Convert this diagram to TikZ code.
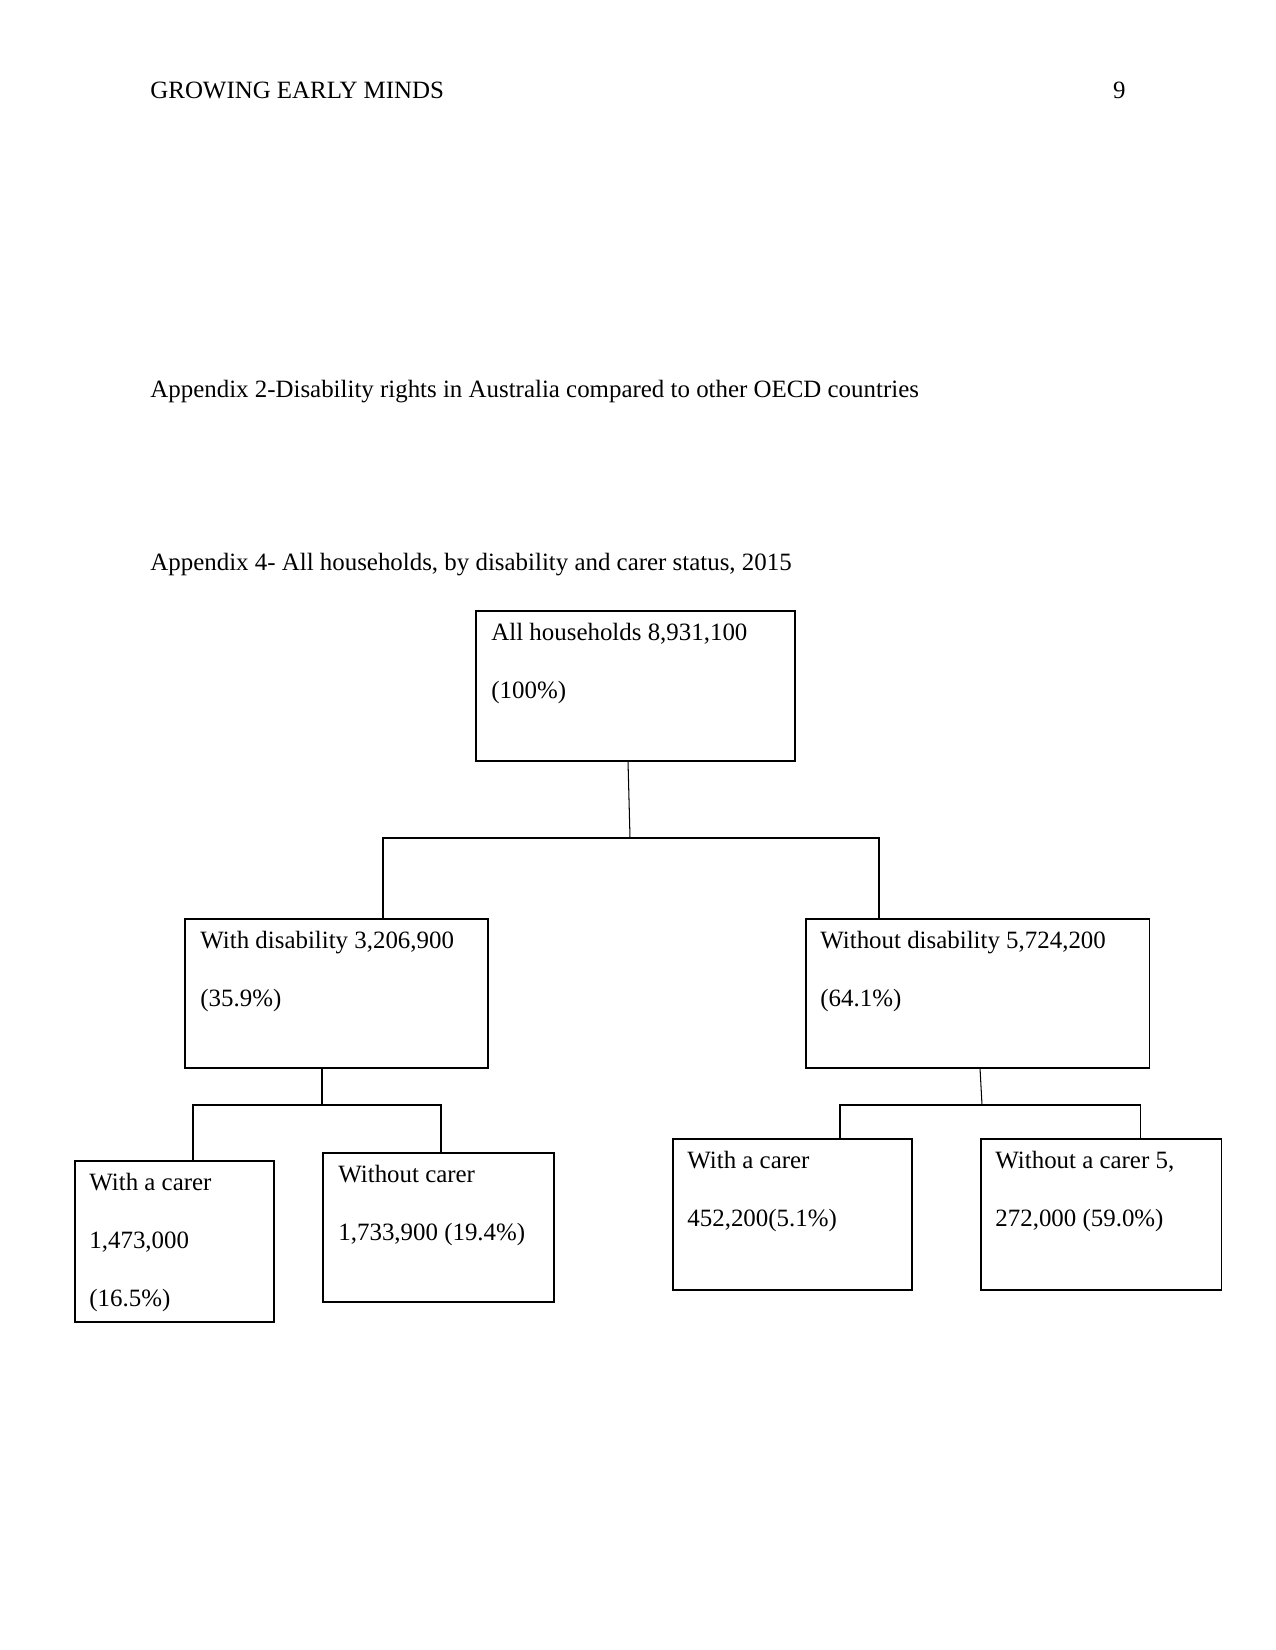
\documentclass[tikz,border=0pt]{standalone}
\usepackage{fontspec}
\setmainfont{Liberation Serif}
\usetikzlibrary{calc}
\newcommand\pxu{0.4818pt}
\begin{document}
\begin{tikzpicture}[x=0.4818pt,y=-0.4818pt,
  boxnode/.style={draw,line width=0.5pt,inner sep=0pt,outer sep=0pt,anchor=north west},
  txt/.style={anchor=base west,inner sep=0pt,font=\fontsize{12pt}{14pt}\selectfont},
  conn/.style={line width=0.5pt}]
\useasboundingbox[fill=white] (0,0) rectangle (1275,1650);
% header and captions
\node[txt] (hdr) at (150,99) {GROWING EARLY MINDS};
\node[txt,anchor=base east] (pg) at (1126,99) {9};
\node[txt] (cap2) at (150,398) {Appendix 2-Disability rights in Australia compared to other OECD countries};
\node[txt] (cap4) at (150,570) {Appendix 4- All households, by disability and carer status, 2015};
% boxes
\node[boxnode,minimum width=319*\pxu,minimum height=150*\pxu] (top) at (476,611) {};
\node[boxnode,minimum width=303*\pxu,minimum height=149*\pxu] (wd) at (185,919) {};
\node[boxnode,minimum width=343*\pxu,minimum height=149*\pxu] (wod) at (806,919) {};
\node[boxnode,minimum width=199*\pxu,minimum height=161*\pxu] (wc1) at (75,1161) {};
\node[boxnode,minimum width=231*\pxu,minimum height=149*\pxu] (woc1) at (323,1153) {};
\node[boxnode,minimum width=239*\pxu,minimum height=151*\pxu] (wc2) at (673,1139) {};
\node[boxnode,minimum width=240*\pxu,minimum height=151*\pxu] (woc2) at (981,1139) {};
% box texts
\node[txt] (t1a) at ($(top.north west)+(15,29)$) {All households 8,931,100};
\node[txt] (t1b) at ($(top.north west)+(15,87)$) {(100\%)};
\node[txt] (t2a) at ($(wd.north west)+(15,29)$) {With disability 3,206,900};
\node[txt] (t2b) at ($(wd.north west)+(15,87)$) {(35.9\%)};
\node[txt] (t3a) at ($(wod.north west)+(14,29)$) {Without disability 5,724,200};
\node[txt] (t3b) at ($(wod.north west)+(14,87)$) {(64.1\%)};
\node[txt] (t4a) at ($(wc1.north west)+(14,29)$) {With a carer};
\node[txt] (t4b) at ($(wc1.north west)+(14,87)$) {1,473,000};
\node[txt] (t4c) at ($(wc1.north west)+(14,145)$) {(16.5\%)};
\node[txt] (t5a) at ($(woc1.north west)+(15,29)$) {Without carer};
\node[txt] (t5b) at ($(woc1.north west)+(15,87)$) {1,733,900 (19.4\%)};
\node[txt] (t6a) at ($(wc2.north west)+(14,29)$) {With a carer};
\node[txt] (t6b) at ($(wc2.north west)+(14,87)$) {452,200(5.1\%)};
\node[txt] (t7a) at ($(woc2.north west)+(14,29)$) {Without a carer 5,};
\node[txt] (t7b) at ($(woc2.north west)+(14,87)$) {272,000 (59.0\%)};
% junctions
\coordinate (j1) at (630,838);
\coordinate (j2) at (322,1105);
\coordinate (j3) at (982,1105);
% connectors
\draw[conn] ($(top.south west)+(152,0)$) -- (j1);
\draw[conn] ($(wd.north west)+(198,0)$) |- (j1) -| ($(wod.north west)+(73,0)$);
\draw[conn] ($(wd.south west)+(137,0)$) -- (j2);
\draw[conn] ($(wc1.north west)+(118,0)$) |- (j2) -| ($(woc1.north west)+(118,0)$);
\draw[conn] ($(wod.south west)+(174,0)$) -- (j3);
\draw[conn] ($(wc2.north west)+(167,0)$) |- (j3) -| ($(woc2.north west)+(159,0)$);
\end{tikzpicture}
\end{document}
